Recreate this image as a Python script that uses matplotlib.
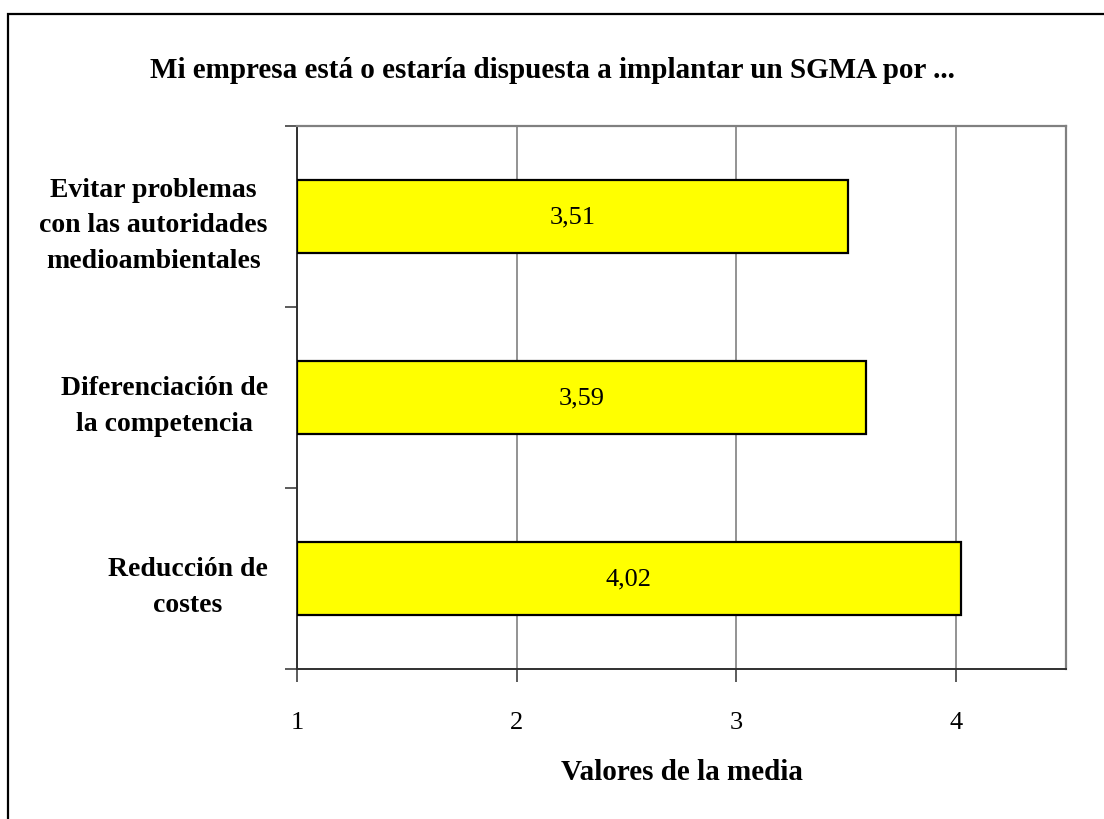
import matplotlib.pyplot as plt
from matplotlib.patches import Rectangle

categories = ["Reducción de\ncostes",
              "Diferenciación de\nla competencia",
              "Evitar problemas\ncon las autoridades\nmedioambientales"]
values = [4.02, 3.59, 3.51]
value_labels = ["4,02", "3,59", "3,51"]
x_ticks = [1, 2, 3, 4]

plt.rcParams["font.family"] = ["Liberation Serif", "DejaVu Serif"]

fig = plt.figure(figsize=(11.04, 8.2), dpi=100)
ax = fig.add_axes([297 / 1104, 1 - 670 / 820, (1066 - 297) / 1104, (670 - 127) / 820])

# outer chart border (runs off the right and bottom edges)
fig.patches.append(Rectangle((8 / 1104, -0.05), 1.2, 1 - 15 / 820 + 0.05,
                             transform=fig.transFigure, fill=False,
                             edgecolor="black", linewidth=1.6))

pos = range(len(categories))
ax.barh(pos, [v - 1 for v in values], left=1, height=0.4,
        color="#FFFF00", edgecolor="black", linewidth=1.6, zorder=3)
for p, v, lab in zip(pos, values, value_labels):
    ax.text((1 + v) / 2, p, lab, ha="center", va="center", fontsize=19, zorder=4)

ax.set_xlim(1, 4.5)
ax.set_ylim(-0.5, 2.5)
ax.set_xticks(x_ticks)
ax.set_xticklabels([str(t) for t in x_ticks], fontsize=19)
ax.xaxis.grid(True, color="#808080", linewidth=1.2, zorder=0)

ax.set_yticks([-0.5, 0.5, 1.5, 2.5])
ax.set_yticklabels([])
ax.set_yticks(list(pos), minor=True)
ax.set_yticklabels(categories, minor=True, fontsize=20, fontweight="bold",
                   multialignment="center", linespacing=1.55)
ax.tick_params(axis="y", which="minor", length=0, pad=21)
ax.tick_params(axis="y", which="major", length=9, width=1.2, color="#404040")
ax.tick_params(axis="x", length=9, width=1.2, color="#404040", pad=21)

for side in ("top", "right"):
    ax.spines[side].set_color("#808080")
    ax.spines[side].set_linewidth(1.6)
for side in ("left", "bottom"):
    ax.spines[side].set_color("#303030")
    ax.spines[side].set_linewidth(1.4)

ax.set_xlabel("Valores de la media", fontsize=21, fontweight="bold", labelpad=18)
fig.text(0.5, 1 - 78 / 820, "Mi empresa está o estaría dispuesta a implantar un SGMA por ...",
         ha="center", va="baseline", fontsize=21, fontweight="bold")

fig.savefig("out.png", dpi=100)
